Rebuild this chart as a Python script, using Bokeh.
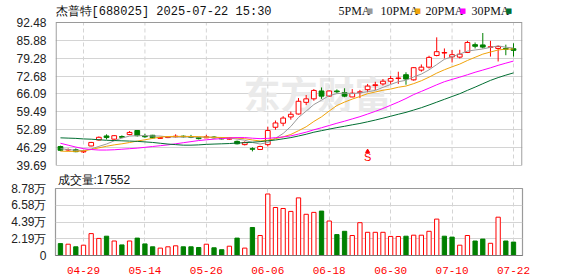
from bokeh.plotting import figure
from bokeh.models import Range1d, FixedTicker, Label, ColumnDataSource
from bokeh.layouts import column
from bokeh.embed import file_html
from bokeh.resources import INLINE
from bokeh.core.properties import value

# ---------------- data ----------------
dates = ["04-24", "04-25", "04-28", "04-29", "04-30", "05-06", "05-07", "05-08", "05-09", "05-12",
         "05-13", "05-14", "05-15", "05-16", "05-19", "05-20", "05-21", "05-22", "05-23", "05-26",
         "05-27", "05-28", "05-29", "05-30", "06-03", "06-04", "06-05", "06-06", "06-09", "06-10",
         "06-11", "06-12", "06-13", "06-16", "06-17", "06-18", "06-19", "06-20", "06-23", "06-24",
         "06-25", "06-26", "06-27", "06-30", "07-01", "07-02", "07-03", "07-04", "07-07", "07-08",
         "07-09", "07-10", "07-11", "07-14", "07-15", "07-16", "07-17", "07-18", "07-21", "07-22"]

opens = [46.7, 45.4, 45.5, 44.7, 46.9, 49.1, 50.6, 49.4, 50.4, 51.1,
         52.6, 50.6, 50.85, 49.7, 50.0, 50.3, 50.5, 50.4, 50.0, 49.9,
         50.2, 49.8, 49.4, 48.6, 47.4, 45.9, 45.6, 47.4, 53.8, 55.3,
         57.6, 58.7, 63.0, 64.3, 67.2, 65.3, 67.2, 66.6, 65.0, 66.6,
         67.7, 69.2, 69.8, 70.8, 71.8, 73.2, 71.3, 74.9, 76.0, 80.3,
         81.2, 79.8, 79.7, 81.4, 84.3, 84.2, 83.3, 82.9, 82.9, 82.8]
highs = [47.0, 46.0, 46.0, 45.4, 48.4, 50.4, 51.2, 50.9, 50.8, 52.4,
         52.7, 51.4, 51.0, 50.1, 50.4, 51.2, 50.8, 51.0, 50.3, 51.0,
         50.5, 50.0, 50.2, 48.9, 48.6, 46.4, 47.0, 54.0, 56.3, 57.9,
         59.6, 64.6, 65.7, 67.9, 68.5, 67.4, 67.8, 68.2, 67.9, 67.6,
         69.8, 70.6, 71.6, 72.8, 74.3, 74.1, 76.0, 77.0, 80.2, 87.0,
         82.9, 82.3, 82.4, 85.7, 85.1, 88.6, 85.7, 84.0, 84.3, 84.8]
lows = [45.0, 45.1, 44.6, 44.3, 46.8, 48.9, 49.3, 49.2, 49.8, 50.9,
        50.4, 49.9, 49.7, 49.5, 49.8, 50.0, 50.0, 49.8, 49.3, 49.8,
        49.7, 49.3, 49.2, 47.5, 47.1, 44.9, 45.4, 46.7, 52.9, 54.2,
        56.6, 58.5, 62.0, 63.6, 64.3, 65.0, 66.4, 64.9, 64.9, 64.6,
        66.7, 67.6, 69.2, 69.8, 69.8, 69.5, 71.0, 74.3, 75.5, 80.0,
        79.2, 77.7, 79.2, 81.2, 82.9, 82.9, 79.9, 78.1, 80.4, 79.9]
closes = [45.3, 45.6, 44.8, 45.0, 48.2, 50.1, 50.0, 50.7, 50.1, 51.9,
          50.7, 50.3, 49.9, 50.0, 50.2, 50.5, 50.3, 50.1, 49.6, 50.3,
          49.9, 49.5, 49.8, 47.7, 48.2, 45.7, 46.7, 52.6, 55.4, 57.2,
          58.6, 63.4, 64.3, 67.4, 65.3, 67.2, 66.9, 65.3, 66.4, 66.9,
          69.0, 69.5, 70.8, 71.8, 72.0, 71.6, 75.8, 76.0, 79.6, 81.7,
          81.4, 80.6, 80.8, 85.1, 83.7, 83.4, 83.5, 83.6, 82.6, 82.2]
volumes = [15600, 14800, 11400, 13500, 28700, 22400, 25300, 19000, 13900, 19000,
           22800, 15200, 11400, 9700, 11400, 12700, 11400, 11400, 10500, 14800,
           10100, 7600, 12200, 22800, 9700, 36700, 26200, 80600, 62900, 61600,
           57800, 75500, 54000, 56500, 58200, 45200, 27400, 31700, 26200, 43000,
           30400, 30400, 30400, 25000, 24900, 25300, 26600, 26600, 31700, 47700,
           25300, 24100, 13500, 26200, 19000, 21500, 16000, 50200, 19000, 17552]

ma5 = [45.9, 45.6, 45.3, 45.2, 45.78, 46.74, 47.62, 48.80, 49.82, 50.56,
       50.68, 50.74, 50.58, 50.56, 50.22, 50.18, 50.18, 50.22, 50.14, 50.16,
       50.04, 49.88, 49.82, 49.44, 49.02, 48.18, 47.62, 48.18, 49.72, 51.52,
       54.10, 57.44, 59.78, 62.18, 63.80, 65.52, 66.22, 66.42, 66.22, 66.54,
       66.90, 67.42, 68.52, 69.60, 70.62, 71.14, 72.40, 73.44, 75.00, 76.94,
       78.90, 79.86, 80.82, 81.92, 82.32, 82.72, 83.30, 83.86, 83.36, 83.06]
ma10 = [45.0, 44.9, 44.9, 45.1, 45.6, 46.2, 46.8, 47.3, 47.7, 48.17,
        48.71, 49.18, 49.69, 50.19, 50.39, 50.43, 50.46, 50.40, 50.35, 50.19,
        50.11, 50.03, 50.02, 49.79, 49.59, 49.11, 48.75, 49.00, 49.58, 50.27,
        51.14, 52.53, 53.98, 55.95, 57.66, 59.81, 61.83, 63.10, 64.20, 65.17,
        66.21, 66.82, 67.47, 67.91, 68.58, 69.02, 69.91, 70.98, 72.30, 73.78,
        75.02, 76.13, 77.13, 78.46, 79.63, 80.81, 81.58, 82.34, 82.64, 82.69]
ma20 = [47.9, 47.2, 46.5, 45.9, 45.6, 45.4, 45.4, 45.5, 45.7, 45.9,
        46.1, 46.4, 46.7, 47.0, 47.3, 47.7, 48.1, 48.5, 48.9, 49.18,
        49.41, 49.61, 49.86, 49.99, 49.99, 49.77, 49.61, 49.70, 49.97, 50.23,
        50.63, 51.28, 52.00, 52.87, 53.63, 54.46, 55.29, 56.05, 56.89, 57.72,
        58.68, 59.68, 60.73, 61.93, 63.12, 64.42, 65.87, 67.04, 68.25, 69.48,
        70.62, 71.48, 72.30, 73.19, 74.11, 74.92, 75.75, 76.66, 77.47, 78.24]
ma30 = [49.9, 49.8, 49.7, 49.5, 49.4, 49.2, 49.0, 48.9, 48.8, 48.7,
        48.6, 48.4, 48.2, 47.9, 47.6, 47.4, 47.2, 47.2, 47.3, 47.5,
        47.6, 47.7, 47.8, 48.0, 48.1, 48.3, 48.5, 48.8, 49.1, 49.54,
        49.99, 50.58, 51.23, 51.98, 52.55, 53.12, 53.68, 54.17, 54.71, 55.21,
        55.82, 56.46, 57.16, 57.88, 58.61, 59.31, 60.16, 61.03, 62.03, 63.07,
        64.12, 65.16, 66.19, 67.44, 68.62, 69.88, 71.11, 72.14, 73.05, 73.88]

price_ticks = [39.69, 46.29, 52.89, 59.49, 66.09, 72.68, 79.28, 85.88, 92.48]
price_tick_labels = ["39.69", "46.29", "52.89", "59.49", "66.09", "72.68", "79.28", "85.88", "92.48"]
vol_ticks = [0, 21950, 43900, 65850, 87800]
vol_tick_labels = ["0", "2.19万", "4.39万", "6.58万", "8.78万"]
date_tick_idx = [3, 11, 19, 27, 35, 43, 51, 59]
signal_idx = [40]
signal_text = ["S"]
title_text = "杰普特[688025] 2025-07-22 15:30"
volume_caption = "成交量:17552"
legend_names = ["5PMA", "10PMA", "20PMA", "30PMA"]

# ---------------- styles / layout ----------------
RED = "#ff0000"
GREEN = "#008000"
MA_COLORS = ["#9a9a9a", "#f0a30a", "#ff00ff", "#006e32"]
GRID = "#d4d4d4"
FRAME = "#9a9a9a"
W = 578
LEFT, RIGHT = 55, 56
MAIN_H, MAIN_BOT = 172, 7          # main frame spans canvas y 0 .. 165
PLOT_TOP_PX = 22                    # where the price box starts inside the frame
VOL_H, VOL_TOP, VOL_BOT = 104, 14, 21
SANS = "Liberation Sans"
MONO = "Liberation Mono"
CJK = "Noto Sans CJK SC"

n = len(dates)
xs = list(range(n))
ccol = [RED if c >= o else GREEN for o, c in zip(opens, closes)]
cfill = ["#ffffff" if c >= o else GREEN for o, c in zip(opens, closes)]
prev = [opens[0]] + closes[:-1]
vcol = [RED if c >= pc else GREEN for c, pc in zip(closes, prev)]
vfill = ["#ffffff" if c >= pc else GREEN for c, pc in zip(closes, prev)]

src = ColumnDataSource(dict(
    x=xs, open=opens, high=highs, low=lows, close=closes,
    top=[max(o, c) for o, c in zip(opens, closes)],
    bottom=[min(o, c) for o, c in zip(opens, closes)],
    color=ccol, fill=cfill, vol=volumes, vcolor=vcol, vfill=vfill,
    ma5=ma5, ma10=ma10, ma20=ma20, ma30=ma30,
))

X0, X1 = -0.646, 60.172
x_range = Range1d(X0, X1)
frame_w = W - LEFT - RIGHT
xpx = (X1 - X0) / frame_w          # data units per pixel (x)

main_frame_h = MAIN_H - MAIN_BOT
ppx = (price_ticks[-1] - price_ticks[0]) / (main_frame_h - PLOT_TOP_PX)
y_top = price_ticks[-1] + PLOT_TOP_PX * ppx

# ---------------- main chart ----------------
p = figure(width=W, height=MAIN_H, output_backend="svg", toolbar_location=None,
           x_range=x_range, y_range=Range1d(price_ticks[0], y_top),
           x_axis_location=None, min_border_left=LEFT, min_border_right=RIGHT,
           min_border_top=0, min_border_bottom=MAIN_BOT)
p.outline_line_color = None
p.background_fill_color = "#ffffff"
p.border_fill_color = "#ffffff"
p.yaxis.ticker = FixedTicker(ticks=price_ticks)
p.yaxis.major_label_overrides = {t: l for t, l in zip(price_ticks, price_tick_labels)}
p.yaxis.axis_line_color = None
p.yaxis.major_tick_line_color = None
p.yaxis.minor_tick_line_color = None
p.yaxis.major_label_standoff = 3
p.yaxis.major_label_text_font = SANS
p.yaxis.major_label_text_font_size = "12px"
p.yaxis.major_label_text_color = "#222222"
p.ygrid.ticker = FixedTicker(ticks=price_ticks)
p.ygrid.grid_line_color = GRID
p.xgrid.visible = False

p.segment(x0=date_tick_idx, y0=[price_ticks[0]] * len(date_tick_idx),
          x1=date_tick_idx, y1=[price_ticks[-1]] * len(date_tick_idx),
          line_color=GRID, line_dash="4 3", line_width=1)
p.quad(left=[X0 + 0.6 * xpx], right=[X1 - 0.6 * xpx], bottom=[price_ticks[0]], top=[price_ticks[-1]],
       fill_color=None, line_color=FRAME, line_width=1.2)

wm = Label(x=262, y=73, x_units="screen", y_units="screen", text="东方财富",
           text_font=CJK, text_font_style="bold", text_font_size="37px",
           text_color="#eaeaea", text_align="center", text_baseline="middle", level="underlay")
p.add_layout(wm)

p.segment(x0="x", y0="low", x1="x", y1="high", color="color", line_width=1, source=src)
p.vbar(x="x", width=0.62, top="top", bottom="bottom", fill_color="fill",
       line_color="color", line_width=1, source=src)
for col, c in zip(["ma5", "ma10", "ma20", "ma30"], MA_COLORS):
    p.line(x="x", y=col, color=c, line_width=1, source=src)

sig_y = [price_ticks[0] + 3.2] * len(signal_idx)
p.text(x=signal_idx, y=sig_y, text=signal_text, text_color=RED, text_font=value(SANS),
       text_font_size="11px", text_align="center", text_baseline="middle")
p.scatter(x=signal_idx, y=[v + 2.0 for v in sig_y], marker="triangle", size=4, color=RED)

# title and MA legend (screen units: from the frame's bottom-left corner)
p.add_layout(Label(x=0, y=main_frame_h - 11, x_units="screen", y_units="screen",
                   text=title_text, text_font=MONO, text_font_size="12px",
                   text_color="#111111", text_baseline="middle"))
leg_x = [338, 380, 425, 471]
for name, lx, c in zip(legend_names, leg_x, MA_COLORS):
    p.add_layout(Label(x=lx - LEFT, y=main_frame_h - 10, x_units="screen", y_units="screen",
                       text=name, text_font="Liberation Serif", text_font_size="12px",
                       text_color="#111111", text_baseline="middle"))
    wtxt = 25 if len(name) == 4 else 31
    p.add_layout(Label(x=lx - LEFT + wtxt + 3, y=main_frame_h - 10, x_units="screen", y_units="screen",
                       text="■", text_font="DejaVu Sans", text_font_size="7px",
                       text_color=c, text_baseline="middle"))

# ---------------- volume chart ----------------
v = figure(width=W, height=VOL_H, output_backend="svg", toolbar_location=None,
           x_range=x_range, y_range=Range1d(vol_ticks[0], vol_ticks[-1]),
           min_border_left=LEFT, min_border_right=RIGHT,
           min_border_top=VOL_TOP, min_border_bottom=VOL_BOT, title=volume_caption)
v.title.align = "left"
v.title.offset = 2
v.title.standoff = 0
v.title.vertical_align = "top"
v.title.text_font = SANS
v.title.text_font_size = "12px"
v.title.text_font_style = "normal"
v.title.text_color = "#111111"
v.outline_line_color = FRAME
v.outline_line_width = 1.2
v.yaxis.ticker = FixedTicker(ticks=vol_ticks)
v.yaxis.major_label_overrides = {t: l for t, l in zip(vol_ticks, vol_tick_labels)}
v.yaxis.axis_line_color = None
v.yaxis.major_tick_line_color = None
v.yaxis.minor_tick_line_color = None
v.yaxis.major_label_standoff = 3
v.yaxis.major_label_text_font = SANS
v.yaxis.major_label_text_font_size = "12px"
v.yaxis.major_label_text_color = "#222222"
v.xaxis.ticker = FixedTicker(ticks=date_tick_idx)
v.xaxis.major_label_overrides = {i: dates[i] for i in date_tick_idx}
v.xaxis.axis_line_color = "#777777"
v.xaxis.major_tick_line_color = None
v.xaxis.minor_tick_line_color = None
v.xaxis.major_label_standoff = 5
v.xaxis.major_label_text_font = MONO
v.xaxis.major_label_text_font_size = "11px"
v.xaxis.major_label_text_color = RED
v.ygrid.ticker = FixedTicker(ticks=vol_ticks)
v.ygrid.grid_line_color = GRID
v.xgrid.ticker = FixedTicker(ticks=date_tick_idx)
v.xgrid.grid_line_color = GRID
v.xgrid.grid_line_dash = "4 3"

v.vbar(x="x", width=0.56, top="vol", bottom=0, fill_color="vfill",
       line_color="vcolor", line_width=1, source=src)

layout = column(p, v, spacing=0)
open("out.html", "w").write(file_html(layout, INLINE))
